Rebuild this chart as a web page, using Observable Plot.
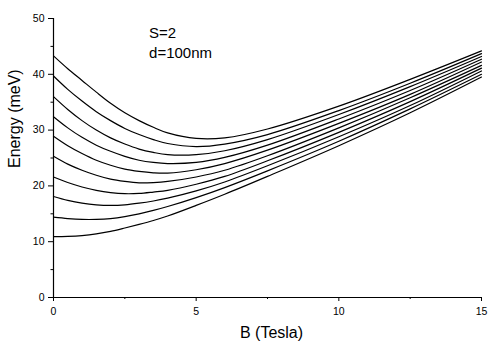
<!DOCTYPE html>
<html>
<head>
<meta charset="utf-8">
<script src="https://cdn.jsdelivr.net/npm/d3@7"></script>
<script src="https://cdn.jsdelivr.net/npm/@observablehq/plot@0.6"></script>
<style>
  html, body { margin: 0; padding: 0; background: white; }
</style>
</head>
<body>
<div id="chart"></div>
<script>
// Magnetic field samples (Tesla)
const B = [0, 0.5, 1, 1.5, 2, 2.5, 3, 3.5, 4, 5, 6, 7.5, 10, 12.5, 15];
// Energy levels (meV), bottom to top
const level0 = [10.9, 10.95, 11.1, 11.4, 11.85, 12.45, 13.1, 13.8, 14.6, 16.5, 18.5, 21.7, 27.2, 33.1, 39.5];
const level1 = [14.4, 14.15, 14.0, 14.0, 14.15, 14.5, 15.0, 15.6, 16.3, 17.9, 19.7, 22.7, 28.0, 33.8, 40.0];
const level2 = [18.1, 17.4, 16.9, 16.6, 16.5, 16.6, 16.9, 17.3, 17.8, 19.1, 20.7, 23.6, 28.8, 34.4, 40.6];
const level3 = [21.6, 20.6, 19.8, 19.2, 18.8, 18.6, 18.65, 18.9, 19.2, 20.3, 21.7, 24.5, 29.6, 35.1, 41.1];
const level4 = [25.3, 23.9, 22.8, 21.9, 21.2, 20.8, 20.55, 20.6, 20.8, 21.6, 22.8, 25.4, 30.4, 35.8, 41.6];
const level5 = [28.9, 27.2, 25.8, 24.6, 23.7, 23.0, 22.6, 22.35, 22.3, 22.9, 24.0, 26.4, 31.2, 36.4, 42.2];
const level6 = [32.4, 30.4, 28.7, 27.3, 26.2, 25.3, 24.6, 24.2, 24.0, 24.2, 25.1, 27.3, 32.0, 37.1, 42.7];
const level7 = [36.0, 33.7, 31.7, 30.0, 28.6, 27.5, 26.6, 26.0, 25.6, 25.6, 26.3, 28.3, 32.8, 37.8, 43.2];
const level8 = [39.7, 37.3, 35.2, 33.3, 31.7, 30.3, 29.2, 28.3, 27.6, 27.05, 27.5, 29.2, 33.5, 38.4, 43.7];
const level9 = [43.3, 41.0, 38.9, 36.8, 34.8, 33.1, 31.7, 30.5, 29.5, 28.5, 28.6, 30.2, 34.3, 39.1, 44.2];

const xTicks = [0, 5, 10, 15];
const xMinor = [2.5, 7.5, 12.5];
const yTicks = [0, 10, 20, 30, 40, 50];
const yMinor = [5, 15, 25, 35, 45];
const xTitle = "B (Tesla)";
const yTitle = "Energy (meV)";
const notes = ["S=2", "d=100nm"];

const levels = [level0, level1, level2, level3, level4, level5, level6, level7, level8, level9];
const table = levels.flatMap((vals, k) => vals.map((e, i) => ({B: B[i], E: e, level: k})));

const font = "'Liberation Sans', Arial, Helvetica, sans-serif";

const chart = Plot.plot({
  width: 488,
  height: 345,
  marginLeft: 53,
  marginRight: 7,
  marginTop: 18,
  marginBottom: 48,
  x: {domain: [0, 15]},
  y: {domain: [0, 50]},
  style: {fontFamily: font, background: "white", color: "black", overflow: "visible"},
  marks: [
    Plot.axisX(xTicks, {tickSize: 4, tickPadding: 6, fontSize: 10.5, label: null}),
    Plot.axisX(xMinor, {tickSize: 2, tickFormat: () => "", label: null}),
    Plot.axisY(yTicks, {tickSize: 5, tickPadding: 4, fontSize: 10.5, label: null}),
    Plot.axisY(yMinor, {tickSize: 2.5, tickFormat: () => "", label: null}),
    Plot.ruleX([0], {stroke: "black", strokeWidth: 1.2}),
    Plot.ruleY([0], {stroke: "black", strokeWidth: 1.2}),
    Plot.line(table, {x: "B", y: "E", z: "level", stroke: "black", strokeWidth: 1.2, curve: "catmull-rom"}),
    Plot.text([xTitle], {frameAnchor: "bottom", dx: 4, dy: 40, fontSize: 16}),
    Plot.text([yTitle], {frameAnchor: "left", dx: -38.5, dy: 10, rotate: -90, fontSize: 16}),
    Plot.text([notes[0]], {x: 3.35, y: 47.4, textAnchor: "start", fontSize: 15}),
    Plot.text([notes[1]], {x: 3.35, y: 43.8, textAnchor: "start", fontSize: 15})
  ]
});
document.getElementById("chart").appendChild(chart);
</script>
</body>
</html>
